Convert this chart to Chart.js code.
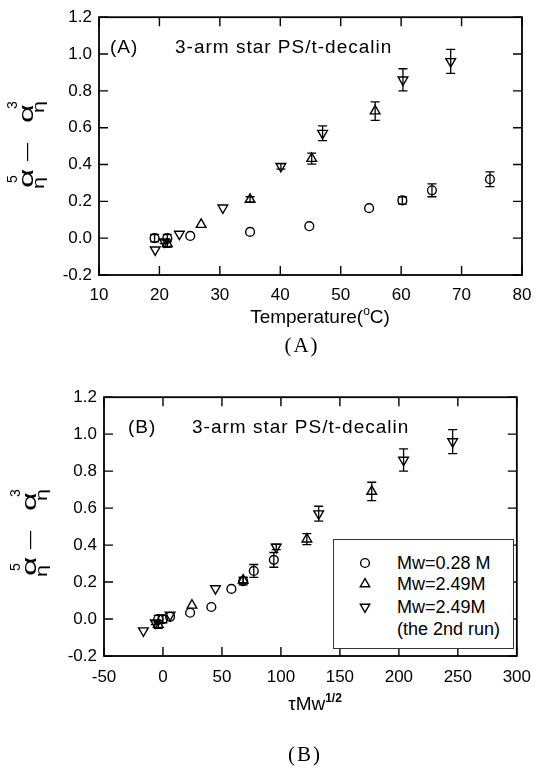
<!DOCTYPE html>
<html><head><meta charset="utf-8">
<script src="https://cdn.jsdelivr.net/npm/chart.js@4.4.0/dist/chart.umd.min.js"></script>
<style>
html,body{margin:0;padding:0;background:#fff;}
body{width:542px;height:769px;position:relative;overflow:hidden;font-family:"Liberation Sans",Arial,sans-serif;color:#000;}
.abs{position:absolute;white-space:nowrap;line-height:1;}
.c{transform:translate(-50%,-50%);}
.l{transform:translateY(-50%);}
#wa{position:absolute;left:0;top:0;width:542px;height:340px;}
#wb{position:absolute;left:0;top:380px;width:542px;height:389px;}
.ann{font-size:19px;letter-spacing:1px;}
.xt{font-size:19px;}
.xt sup{font-size:12px;vertical-align:0;position:relative;top:-8px;}
.cap{font-family:"Liberation Serif","DejaVu Serif",serif;font-size:21px;letter-spacing:2px;}
.yt{position:absolute;width:120px;height:40px;transform:rotate(-90deg);}
.yt span{position:absolute;line-height:1;white-space:nowrap;transform-origin:left top;}
.yt .a{font-size:21px;top:5px;}
.yt .b{font-size:16px;top:20.5px;transform:scaleX(1.35);}
.yt .p{font-size:14px;top:-4.9px;}
.yt .d{font-size:18px;top:7px;left:45px;}
#leg{position:absolute;left:333px;top:539px;width:179px;height:108px;border:1px solid #333;background:#fff;}
#leg .t{position:absolute;left:63px;font-size:18px;transform:translateY(-50%);white-space:nowrap;line-height:1;}
#leg svg{position:absolute;left:24px;}
</style></head>
<body>
<div id="wa"><canvas id="ca" width="542" height="340"></canvas></div>
<div id="wb"><canvas id="cb" width="542" height="389"></canvas></div>

<div class="abs ann l" style="left:110px;top:46px;">(A)</div>
<div class="abs ann l" style="left:175px;top:46px;">3-arm star PS/t-decalin</div>
<div class="abs xt c" style="left:320px;top:316px;">Temperature(<sup>o</sup>C)</div>
<div class="abs cap c" style="left:302px;top:345px;">(A)</div>
<div class="yt" style="left:-30px;top:126px;">
  <span class="a" style="left:18px;transform:scaleX(1.6);">α</span><span class="b" style="left:17px;">η</span><span class="p" style="left:23px;">5</span>
  <span class="d">—</span>
  <span class="a" style="left:83px;transform:scaleX(1.55);">α</span><span class="b" style="left:93px;">η</span><span class="p" style="left:97px;">3</span>
</div>

<div class="abs ann l" style="left:128px;top:426px;">(B)</div>
<div class="abs ann l" style="left:192px;top:426px;">3-arm star PS/t-decalin</div>
<div class="abs xt c" style="left:315px;top:703px;">τMw<sup><b>1/2</b></sup></div>
<div class="abs cap c" style="left:305px;top:754px;">(B)</div>
<div class="yt" style="left:-27px;top:514px;">
  <span class="a" style="left:18px;transform:scaleX(1.6);">α</span><span class="b" style="left:17px;">η</span><span class="p" style="left:23px;">5</span>
  <span class="d">—</span>
  <span class="a" style="left:83px;transform:scaleX(1.55);">α</span><span class="b" style="left:93px;">η</span><span class="p" style="left:97px;">3</span>
</div>

<div id="leg">
  <svg width="14" height="14" style="top:16px" viewBox="-7 -7 14 14"><circle r="4.4" fill="none" stroke="#000" stroke-width="1.4"/></svg>
  <div class="t" style="top:23px">Mw=0.28 M</div>
  <svg width="14" height="14" style="top:37px" viewBox="-7 -7 14 14"><polygon points="0,-5.4 4.7,2.7 -4.7,2.7" fill="none" stroke="#000" stroke-width="1.4"/></svg>
  <div class="t" style="top:44px">Mw=2.49M</div>
  <svg width="14" height="14" style="top:60px" viewBox="-7 -7 14 14"><polygon points="0,5.4 4.7,-2.7 -4.7,-2.7" fill="none" stroke="#000" stroke-width="1.4"/></svg>
  <div class="t" style="top:67px">Mw=2.49M</div>
  <div class="t" style="top:89px">(the 2nd run)</div>
</div>

<script>
// ---- data ----
const yTicks  = [-0.2, 0.0, 0.2, 0.4, 0.6, 0.8, 1.0, 1.2];
const xTicksA = [10, 20, 30, 40, 50, 60, 70, 80];
const xTicksB = [-50, 0, 50, 100, 150, 200, 250, 300];
const seriesNames = ['Mw=0.28 M', 'Mw=2.49M', 'Mw=2.49M (the 2nd run)'];

// Mw = 0.28 M (circles)
const circleT   = [19.2, 21.3, 25.1, 35.0, 44.8, 54.7, 60.2, 65.1, 74.7];
const circleTau = [-4, 0, 6, 23, 41, 58, 68, 77, 94];
const circleY   = [0.00, 0.00, 0.012, 0.034, 0.065, 0.163, 0.205, 0.26, 0.32];
const circleErr = [0.02, 0.02, 0, 0, 0, 0, 0.02, 0.035, 0.04];

// Mw = 2.49 M (up triangles)
const upT   = [21.3, 26.9, 35.0, 45.2, 55.7];
const upTau = [-4, 24.6, 68, 122, 177];
const upY   = [-0.03, 0.074, 0.21, 0.432, 0.69];
const upErr = [0.02, 0, 0.015, 0.03, 0.05];

// Mw = 2.49 M, 2nd run (down triangles)
const downT   = [19.3, 20.8, 23.3, 30.5, 40.1, 47.0, 60.3, 68.2];
const downTau = [-16.6, -6.5, 6, 44.5, 96, 132, 204, 245.6];
const downY   = [-0.063, -0.02, 0.022, 0.165, 0.39, 0.57, 0.86, 0.96];
const downErr = [0, 0.01, 0, 0, 0.015, 0.04, 0.06, 0.065];

// ---- helpers ----
const FONT = '"Liberation Sans", Arial, sans-serif';
const zip = (xs, ys) => xs.map((x, i) => ({x: x, y: ys[i]}));

const framePlugin = {
  id: 'frame',
  afterDraw(chart) {
    const {ctx, chartArea: a, scales: {x, y}} = chart;
    const L = 9;
    ctx.save();
    ctx.strokeStyle = '#000';
    ctx.lineWidth = 1.4;
    ctx.beginPath();
    x.ticks.forEach(t => {
      const p = x.getPixelForValue(t.value);
      ctx.moveTo(p, a.bottom); ctx.lineTo(p, a.bottom - L);
      ctx.moveTo(p, a.top); ctx.lineTo(p, a.top + L);
    });
    y.ticks.forEach(t => {
      const p = y.getPixelForValue(t.value);
      ctx.moveTo(a.left, p); ctx.lineTo(a.left + L, p);
      ctx.moveTo(a.right, p); ctx.lineTo(a.right - L, p);
    });
    ctx.stroke();
    ctx.lineWidth = 1.8;
    ctx.strokeRect(a.left, a.top, a.right - a.left, a.bottom - a.top);
    ctx.restore();
  }
};

const errPlugin = {
  id: 'errbars',
  afterDatasetsDraw(chart) {
    const {ctx, scales: {x, y}} = chart;
    ctx.save();
    ctx.strokeStyle = '#000';
    ctx.lineWidth = 1.3;
    chart.data.datasets.forEach(ds => {
      (ds.errors || []).forEach((e, i) => {
        if (!e) return;
        const pt = ds.data[i];
        const px = x.getPixelForValue(pt.x);
        const y1 = y.getPixelForValue(pt.y + e);
        const y2 = y.getPixelForValue(pt.y - e);
        ctx.beginPath();
        ctx.moveTo(px, y1); ctx.lineTo(px, y2);
        ctx.moveTo(px - 4.5, y1); ctx.lineTo(px + 4.5, y1);
        ctx.moveTo(px - 4.5, y2); ctx.lineTo(px + 4.5, y2);
        ctx.stroke();
      });
    });
    ctx.restore();
  }
};

function ds(label, data, errors, style, rot, r) {
  return {
    label: label, data: data, errors: errors,
    pointStyle: style, pointRotation: rot, pointRadius: r,
    pointBorderColor: '#000', pointBackgroundColor: 'rgba(0,0,0,0)',
    pointBorderWidth: 1.4, showLine: false
  };
}

function makeChart(id, xMin, xMax, xTicks, xs, sizes) {
  return new Chart(document.getElementById(id), {
    type: 'scatter',
    data: {
      datasets: [
        ds(seriesNames[0], zip(xs[0], circleY), circleErr, 'circle', 0, 4.4),
        ds(seriesNames[1], zip(xs[1], upY), upErr, 'triangle', 0, 5.6),
        ds(seriesNames[2], zip(xs[2], downY), downErr, 'triangle', 180, 5.6)
      ]
    },
    options: {
      responsive: false, animation: false, events: [],
      layout: {padding: {top: sizes.top, right: sizes.right, left: 0, bottom: 0}},
      plugins: {legend: {display: false}, tooltip: {enabled: false}},
      scales: {
        x: {
          type: 'linear', min: xMin, max: xMax,
          afterBuildTicks: s => { s.ticks = xTicks.map(v => ({value: v})); },
          afterFit: s => { s.height = sizes.xh; },
          grid: {display: false, drawTicks: false},
          border: {display: false},
          ticks: {font: {family: FONT, size: 17}, color: '#000', padding: sizes.xpad,
                  maxRotation: 0, autoSkip: false, callback: v => String(v)}
        },
        y: {
          type: 'linear', min: -0.2, max: 1.2,
          afterBuildTicks: s => { s.ticks = yTicks.map(v => ({value: v})); },
          afterFit: s => { s.width = sizes.yw; },
          grid: {display: false, drawTicks: false},
          border: {display: false},
          ticks: {font: {family: FONT, size: 17}, color: '#000', padding: 7,
                  callback: v => (Math.abs(v) < 1e-9 ? 0 : v).toFixed(1)}
        }
      }
    },
    plugins: [framePlugin, errPlugin]
  });
}

makeChart('ca', 10, 80, xTicksA, [circleT, upT, downT], {top: 15, right: 20, xh: 65, yw: 99, xpad: 10});
makeChart('cb', -50, 300, xTicksB, [circleTau, upTau, downTau], {top: 15, right: 15, xh: 113, yw: 104, xpad: 11});
</script>
</body></html>
